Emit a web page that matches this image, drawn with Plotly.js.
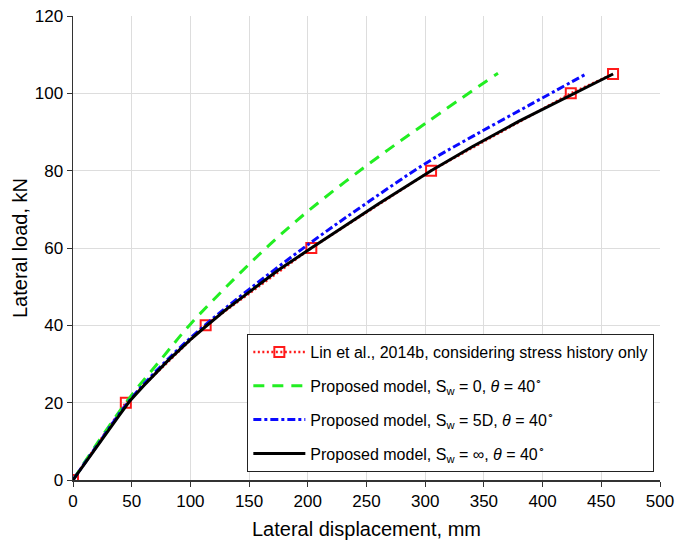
<!DOCTYPE html>
<html>
<head>
<meta charset="utf-8">
<script src="https://cdn.plot.ly/plotly-3.0.1.min.js"></script>
<style>
  html, body { margin: 0; padding: 0; background: #ffffff; }
  #chart { width: 675px; height: 540px; }
</style>
</head>
<body>
<div id="chart"></div>
<script>
// Lateral load vs. lateral displacement curves
const linDisp = [0, 45, 113, 203, 305, 424, 460];
const linLoad = [0, 20, 40, 60, 80, 100, 105];

const sw0Disp = [0, 20, 48, 75, 100, 135, 168, 200, 250, 300, 362];
const sw0Load = [0, 9.2, 21.2, 31.2, 40.3, 51.3, 61, 69.5, 81.3, 92.2, 105.2];

const sw5dDisp = [0, 20, 48, 80, 113, 150, 203, 250, 301, 340, 389, 437];
const sw5dLoad = [0, 8.7, 20.5, 31, 40.2, 49.3, 61.5, 71.6, 82, 88.8, 97, 105];

const swInfDisp = [0, 10, 20, 30, 40, 48, 60, 80, 100, 113, 130, 150, 175, 203, 230, 260, 305, 340, 380, 424, 460];
const swInfLoad = [0, 4.3, 8.6, 12.8, 17, 20.3, 24.3, 30.6, 36.3, 39.7, 44, 48.6, 54.3, 60, 65.5, 71.4, 80, 86.2, 92.8, 99.6, 105];

const seriesNames = [
  'Lin et al., 2014b, considering stress history only',
  'Proposed model, S<sub>w</sub> = 0, <i>θ</i> = 40<sup>∘</sup>',
  'Proposed model, S<sub>w</sub> = 5D, <i>θ</i> = 40<sup>∘</sup>',
  'Proposed model, S<sub>w</sub> = ∞, <i>θ</i> = 40<sup>∘</sup>'
];

const xTicks = [0, 50, 100, 150, 200, 250, 300, 350, 400, 450, 500];
const yTicks = [0, 20, 40, 60, 80, 100, 120];

const FONT = '"Liberation Sans", Arial, Helvetica, sans-serif';

const traces = [
  {
    x: linDisp, y: linLoad, name: seriesNames[0], type: 'scatter', mode: 'lines+markers',
    line: { color: '#ff1a1a', width: 2.5, dash: '2px,2.5px' },
    marker: { symbol: 'square-open', size: 10, color: '#ff1a1a', line: { width: 2, color: '#ff1a1a' } },
    legendgroup: 'a'
  },
  {
    x: sw0Disp, y: sw0Load, name: seriesNames[1], type: 'scatter', mode: 'lines',
    line: { color: '#22ee22', width: 3, dash: '11px,8px', shape: 'spline' },
    legendgroup: 'b'
  },
  {
    x: sw5dDisp, y: sw5dLoad, name: seriesNames[2], type: 'scatter', mode: 'lines',
    line: { color: '#0a0aff', width: 3, dash: '8px,3px,3px,3px', shape: 'spline' },
    legendgroup: 'c'
  },
  {
    x: swInfDisp, y: swInfLoad, name: seriesNames[3], type: 'scatter', mode: 'lines',
    line: { color: '#000000', width: 3 },
    legendgroup: 'd'
  }
];

const layout = {
  width: 675,
  height: 540,
  margin: { l: 73, r: 15, t: 16, b: 60 },
  paper_bgcolor: '#ffffff',
  plot_bgcolor: '#ffffff',
  font: { family: FONT, size: 17, color: '#000000' },
  showlegend: true,
  legend: {
    x: 0.297, y: 0.017, xanchor: 'left', yanchor: 'bottom',
    bgcolor: '#ffffff', bordercolor: '#222222', borderwidth: 1,
    font: { family: FONT, size: 16, color: '#000000' },
    tracegroupgap: 10,
    itemwidth: 52
  },
  xaxis: {
    range: [0, 500], tickvals: xTicks, ticktext: xTicks.map(String),
    showgrid: true, gridcolor: '#dddddd', gridwidth: 1,
    showline: true, linecolor: '#333333', linewidth: 1.5,
    ticks: 'outside', ticklen: 5, tickcolor: '#333333',
    zeroline: false,
    title: { text: 'Lateral displacement, mm', font: { family: FONT, size: 20 }, standoff: 15 },
    tickfont: { family: FONT, size: 17 }
  },
  yaxis: {
    range: [0, 120], tickvals: yTicks, ticktext: yTicks.map(String),
    showgrid: true, gridcolor: '#dddddd', gridwidth: 1,
    showline: true, linecolor: '#333333', linewidth: 1.5,
    ticks: 'outside', ticklen: 5, tickcolor: '#333333',
    zeroline: false,
    title: { text: 'Lateral load, kN', font: { family: FONT, size: 20 }, standoff: 1 },
    tickfont: { family: FONT, size: 17 }
  }
};

Plotly.newPlot('chart', traces, layout, { displayModeBar: false, staticPlot: true });
</script>
</body>
</html>
